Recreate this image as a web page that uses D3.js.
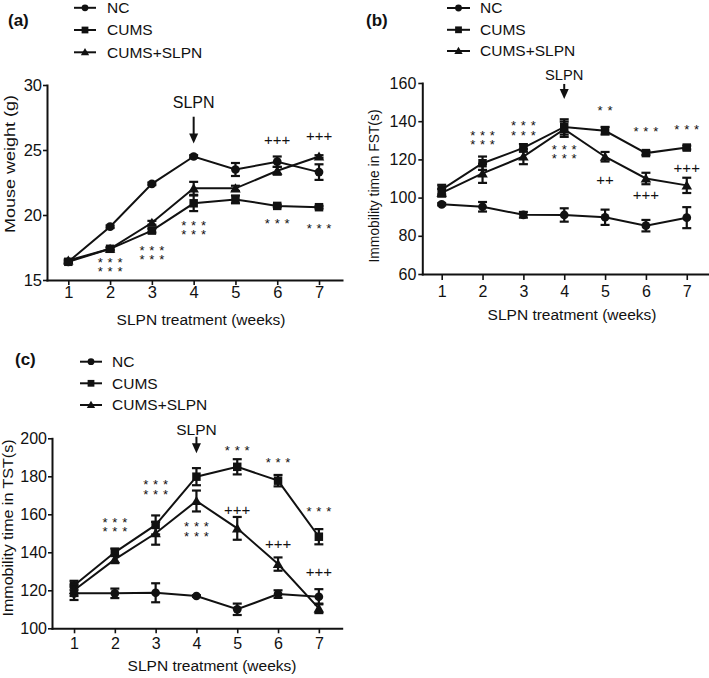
<!DOCTYPE html>
<html><head><meta charset="utf-8">
<script src="https://cdn.jsdelivr.net/npm/d3@7/dist/d3.min.js"></script>
<style>
body{margin:0;background:#fff}
svg{display:block;font-family:"Liberation Sans",Arial,Helvetica,sans-serif}
.stack{font-family:"Liberation Sans",Arial,sans-serif;font-size:13px;letter-spacing:4.8px;text-align:center;color:#111;margin:0;padding:0;white-space:nowrap}
foreignObject{overflow:visible}
</style>
</head><body>
<svg id="chart" width="709" height="678"></svg>
<script>
// ---------- shared ----------
const weeks = [1, 2, 3, 4, 5, 6, 7];
const seriesNames = ["NC", "CUMS", "CUMS+SLPN"];
const xTitle = "SLPN treatment (weeks)";

// ---------- (a) Mouse weight ----------
const aNC       = [16.4, 19.1, 22.4, 24.5, 23.5, 24.1, 23.3];
const aNCErr    = [0.1, 0.1, 0.1, 0.1, 0.5, 0.4, 0.6];
const aCUMS     = [16.4, 17.4, 18.8, 20.9, 21.2, 20.7, 20.6];
const aCUMSErr  = [0.1, 0.1, 0.15, 0.6, 0.3, 0.1, 0.1];
const aSLPN     = [16.5, 17.4, 19.4, 22.05, 22.05, 23.4, 24.5];
const aSLPNErr  = [0.1, 0.1, 0.15, 0.5, 0.2, 0.3, 0.1];
const aYTicks   = [15, 20, 25, 30];
const aYTitle   = "Mouse weight (g)";
const aStars    = [[2, 16.6, "***"], [2, 15.9, "***"], [3, 17.5, "***"], [3, 16.8, "***"],
                   [4, 19.4, "***"], [4, 18.7, "***"], [6, 19.6, "***"], [7, 19.2, "***"]];
const aPlus     = [[6, 25.8, "+++"], [7, 26.1, "+++"]];
const aArrow    = [4, 28.2, 27.56, 25.5]; // week, label baseline, arrow top, arrow tip

// ---------- (b) FST ----------
const bNC       = [96.5, 95.2, 91.0, 90.9, 89.7, 85.3, 89.5];
const bNCErr    = [0.6, 2.5, 1.5, 3.5, 4, 3, 5.5];
const bCUMS     = [104.2, 118.0, 126.0, 137.0, 135.0, 123.3, 126.2];
const bCUMSErr  = [2.5, 3.5, 2, 4, 2, 1, 1];
const bSLPN     = [102.5, 112.7, 121.5, 135.8, 121.4, 110.0, 106.4];
const bSLPNErr  = [2, 5, 4, 4, 2.5, 3, 4];
const bYTicks   = [60, 80, 100, 120, 140, 160];
const bYTitle   = "Immobility time in FST(s)";
const bStars    = [[2, 134.0, "***"], [2, 129.3, "***"], [3, 139.2, "***"], [3, 134.0, "***"],
                   [4, 126.6, "***"], [4, 121.9, "***"], [5, 147.3, "**"], [6, 136.3, "***"], [7, 137.0, "***"]];
const bPlus     = [[5, 109.2, "++"], [6, 101.4, "+++"], [7, 115.5, "+++"]];
const bArrow    = [4, 161.6, 159.5, 151.6];

// ---------- (c) TST ----------
const cNC       = [118.4, 118.4, 118.7, 117.0, 110.0, 118.0, 116.6];
const cNCErr    = [3.5, 2.5, 5, 0.4, 3, 2, 4];
const cCUMS     = [122.5, 140.0, 154.4, 179.8, 185.0, 177.7, 148.2];
const cCUMSErr  = [2.5, 2, 5, 4.5, 4, 3, 4];
const cSLPN     = [120.0, 136.3, 150.0, 167.0, 152.6, 133.8, 110.5];
const cSLPNErr  = [3, 2, 6, 5.5, 6, 3.5, 2.5];
const cYTicks   = [100, 120, 140, 160, 180, 200];
const cYTitle   = "Immobility time in TST(s)";
const cStars    = [[2, 157.4, "***"], [2, 152.6, "***"], [3, 177.2, "***"], [3, 171.9, "***"],
                   [4, 154.9, "***"], [4, 150.0, "***"], [5, 195.3, "***"], [6, 188.6, "***"], [7, 163.2, "***"]];
const cPlus     = [[5, 162.6, "+++"], [6, 144.7, "+++"], [7, 129.8, "+++"]];
const cArrow    = [4, 201.7, 200.8, 192.1];

const INK = "#111";
const svg = d3.select("#chart");
const symbols = [d3.symbolCircle, d3.symbolSquare, d3.symbolTriangle];
const plotSizes = [60, 72, 48];
const legendSizes = [36, 46, 30];

function drawPanel(p) {
  const g = svg.append("g");
  const x = d3.scaleLinear().domain(p.xDom).range(p.xRange);
  const y = d3.scaleLinear().domain(p.yDom).range(p.yRange);

  // axes
  const xa = g.append("g").attr("transform", `translate(0,${p.yRange[0]})`)
    .call(d3.axisBottom(x).tickValues(weeks).tickFormat(d3.format("d"))
      .tickSize(p.xTick).tickSizeOuter(0).tickPadding(p.xPad));
  const ya = g.append("g").attr("transform", `translate(${p.xRange[0]},0)`)
    .call(d3.axisLeft(y).tickValues(p.yTicks).tickFormat(d3.format("d"))
      .tickSize(4).tickSizeOuter(0).tickPadding(p.yPad));
  [xa, ya].forEach(a => {
    a.select(".domain").attr("stroke", INK).attr("stroke-width", 2).attr("stroke-linecap", "square");
    a.selectAll(".tick line").attr("stroke", INK).attr("stroke-width", 1.6);
    a.selectAll(".tick text").attr("fill", INK).attr("font-size", p.tickFont)
      .attr("font-family", '"Liberation Sans",Arial,sans-serif');
  });

  // axis titles
  g.append("text").attr("x", p.xTitlePos[0]).attr("y", p.xTitlePos[1])
    .attr("text-anchor", "middle").attr("font-size", 15.5).attr("fill", INK).text(xTitle);
  g.append("text").attr("transform", `translate(${p.yTitlePos[0]},${p.yTitlePos[1]}) rotate(-90)`)
    .attr("text-anchor", "middle").attr("font-size", 15).attr("fill", INK)
    .attr("textLength", p.yTitleLen).attr("lengthAdjust", "spacingAndGlyphs").text(p.yTitle);

  // panel label
  g.append("text").attr("x", p.labelPos[0]).attr("y", p.labelPos[1])
    .attr("font-size", 17).attr("font-weight", "bold").attr("fill", INK).text(p.label);

  // series
  const line = d3.line().x(d => x(d.w)).y(d => y(d.v));
  p.series.forEach((s, si) => {
    const pts = weeks.map((w, i) => ({ w, v: s.values[i], e: s.errs[i] }));
    g.append("path").datum(pts).attr("d", line).attr("fill", "none")
      .attr("stroke", INK).attr("stroke-width", 2);
    const eb = g.append("g").attr("stroke", INK).attr("stroke-width", 2.2);
    pts.forEach(d => {
      if (d.e <= 0.2 * (p.yDom[1] - p.yDom[0]) / 100) return;
      eb.append("line").attr("x1", x(d.w)).attr("x2", x(d.w)).attr("y1", y(d.v - d.e)).attr("y2", y(d.v + d.e));
      [d.v - d.e, d.v + d.e].forEach(v => eb.append("line")
        .attr("x1", x(d.w) - 4.5).attr("x2", x(d.w) + 4.5).attr("y1", y(v)).attr("y2", y(v)));
    });
    g.append("g").selectAll("path").data(pts).join("path")
      .attr("transform", d => `translate(${x(d.w)},${y(d.v) + (si === 2 ? 1 : 0)})`)
      .attr("d", d3.symbol(symbols[si], plotSizes[si])).attr("fill", INK);
  });

  // legend
  p.series.forEach((s, si) => {
    const ly = p.legendY[si];
    g.append("line").attr("x1", p.legendX[0]).attr("x2", p.legendX[1]).attr("y1", ly).attr("y2", ly)
      .attr("stroke", INK).attr("stroke-width", 2);
    g.append("path").attr("transform", `translate(${(p.legendX[0] + p.legendX[1]) / 2},${ly + (si === 2 ? 0.5 : 0)})`)
      .attr("d", d3.symbol(symbols[si], legendSizes[si])).attr("fill", INK);
    g.append("text").attr("x", p.legendX[2]).attr("y", ly + 5.4)
      .attr("font-size", 15.5).attr("fill", INK).text(seriesNames[si]);
  });

  // significance marks: two stacked rows at a week form one two-line text block
  d3.groups(p.stars, d => d[0]).forEach(([w, rows]) => {
    if (rows.length === 1) {
      const [, v, s] = rows[0];
      g.append("text").attr("x", x(w) + 2.4).attr("y", y(v) + 7.4).attr("text-anchor", "middle")
        .attr("font-size", 13).attr("letter-spacing", 4.8).attr("fill", INK).text(s);
    } else {
      const lh = y(rows[1][1]) - y(rows[0][1]);
      const pad = 4;
      const fo = g.append("foreignObject")
        .attr("x", x(w) - 30 + 2.4).attr("y", y(rows[0][1]) - 1.5 - pad)
        .attr("width", 60).attr("height", lh * rows.length + pad * 2);
      const div = fo.append("xhtml:div").attr("class", "stack")
        .style("line-height", lh + "px").style("padding-top", pad + "px");
      rows.forEach(([, , s], i) => {
        if (i > 0) div.append("xhtml:br");
        div.append("xhtml:span").text(s);
      });
    }
  });
  p.plus.forEach(([w, v, t]) => {
    g.append("text").attr("x", x(w)).attr("y", y(v) + 5.3).attr("text-anchor", "middle")
      .attr("font-size", 15).attr("fill", INK).text(t);
  });

  // SLPN arrow
  const [aw, lab, top, tip] = p.arrow;
  const ax = x(aw);
  g.append("text").attr("x", ax).attr("y", y(lab)).attr("text-anchor", "middle")
    .attr("font-size", p.slpnFont).attr("fill", INK).text("SLPN");
  g.append("line").attr("x1", ax).attr("x2", ax).attr("y1", y(top)).attr("y2", y(tip) - 6)
    .attr("stroke", INK).attr("stroke-width", 2);
  g.append("path").attr("d", `M${ax - 4.5},${y(tip) - 10}L${ax + 4.5},${y(tip) - 10}L${ax},${y(tip)}Z`)
    .attr("fill", INK);
}

drawPanel({
  label: "(a)", labelPos: [8, 25.5],
  xDom: [0.49, 7.55], xRange: [47, 342], yDom: [15, 30], yRange: [280, 85],
  yTicks: aYTicks, xTick: 5, xPad: 1.5, yPad: 1, tickFont: 16.5,
  xTitlePos: [201, 325], yTitle: aYTitle, yTitlePos: [15, 164], yTitleLen: 138,
  legendX: [74, 96, 107], legendY: [7.8, 30, 52.3],
  series: [{ values: aNC, errs: aNCErr }, { values: aCUMS, errs: aCUMSErr }, { values: aSLPN, errs: aSLPNErr }],
  stars: aStars, plus: aPlus, arrow: aArrow, slpnFont: 16
});
drawPanel({
  label: "(b)", labelPos: [366, 25.5],
  xDom: [0.525, 7.52], xRange: [422.3, 708], yDom: [60, 160], yRange: [274, 83],
  yTicks: bYTicks, xTick: 6, xPad: 6, yPad: 2, tickFont: 16,
  xTitlePos: [572, 319.5], yTitle: bYTitle, yTitlePos: [379, 186], yTitleLen: 153,
  legendX: [447, 470, 480], legendY: [8, 29.8, 51],
  series: [{ values: bNC, errs: bNCErr }, { values: bCUMS, errs: bCUMSErr }, { values: bSLPN, errs: bSLPNErr }],
  stars: bStars, plus: bPlus, arrow: bArrow, slpnFont: 14.7
});
drawPanel({
  label: "(c)", labelPos: [15, 365],
  xDom: [0.46, 7.56], xRange: [52, 341.7], yDom: [100, 200], yRange: [628.3, 438.3],
  yTicks: cYTicks, xTick: 5, xPad: 4.5, yPad: 1, tickFont: 16,
  xTitlePos: [212, 671], yTitle: cYTitle, yTitlePos: [13, 528], yTitleLen: 177,
  legendX: [80, 102, 112], legendY: [361.7, 383.3, 405],
  series: [{ values: cNC, errs: cNCErr }, { values: cCUMS, errs: cCUMSErr }, { values: cSLPN, errs: cSLPNErr }],
  stars: cStars, plus: cPlus, arrow: cArrow, slpnFont: 15.5
});
</script>
</body></html>
